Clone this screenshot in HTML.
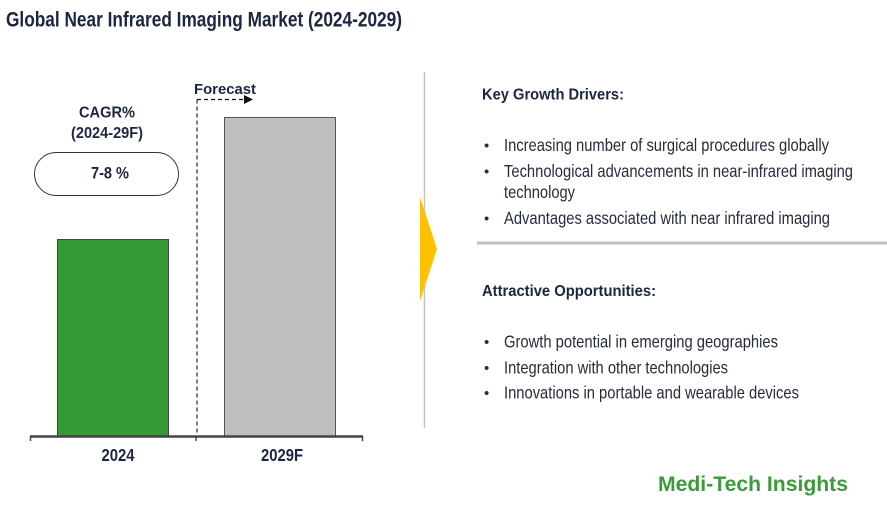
<!DOCTYPE html>
<html><head><meta charset="utf-8"><style>
html,body{margin:0;padding:0;background:#fff;}
svg{display:block;}
text{font-family:"Liberation Sans",Arial,sans-serif;}
</style></head><body>
<svg width="887" height="506" viewBox="0 0 887 506" xmlns="http://www.w3.org/2000/svg">
<rect width="887" height="506" fill="#fff"/>
<!-- Title -->
<text x="6" y="26.5" font-size="21" font-weight="bold" fill="#1c2541" textLength="396" lengthAdjust="spacingAndGlyphs">Global Near Infrared Imaging Market (2024-2029)</text>

<!-- Forecast -->
<text x="194" y="94" font-size="15" font-weight="bold" fill="#1c2541" textLength="62" lengthAdjust="spacingAndGlyphs">Forecast</text>
<line x1="197" y1="99.5" x2="245" y2="99.5" stroke="#111" stroke-width="1.2" stroke-dasharray="4,3"/>
<polygon points="244,95 253,99.5 244,104" fill="#111"/>
<line x1="197" y1="99.5" x2="197" y2="436" stroke="#1c2541" stroke-width="1.2" stroke-dasharray="4,3"/>

<!-- CAGR -->
<text x="107" y="117.5" font-size="16" font-weight="bold" fill="#1c2541" text-anchor="middle" textLength="56" lengthAdjust="spacingAndGlyphs">CAGR%</text>
<text x="107" y="138" font-size="16" font-weight="bold" fill="#1c2541" text-anchor="middle" textLength="72" lengthAdjust="spacingAndGlyphs">(2024-29F)</text>
<rect x="34.5" y="152.5" width="144" height="43" rx="21.5" ry="21.5" fill="#fff" stroke="#333" stroke-width="1"/>
<text x="110" y="178.3" font-size="16.5" font-weight="bold" fill="#1c2541" text-anchor="middle" textLength="38" lengthAdjust="spacingAndGlyphs">7-8 %</text>

<!-- Bars -->
<rect x="57.5" y="239.5" width="111" height="197" fill="#359934" stroke="#444" stroke-width="1"/>
<rect x="224.5" y="117.5" width="111" height="319" fill="#bfbfbf" stroke="#555" stroke-width="1"/>

<!-- Axis -->
<line x1="30" y1="436.5" x2="363" y2="436.5" stroke="#444" stroke-width="2.5"/>
<line x1="30.5" y1="436" x2="30.5" y2="441" stroke="#444" stroke-width="1.5"/>
<line x1="196" y1="436" x2="196" y2="441" stroke="#444" stroke-width="1.5"/>
<line x1="362.5" y1="436" x2="362.5" y2="441" stroke="#444" stroke-width="1.5"/>
<text x="118" y="461" font-size="17.5" font-weight="bold" fill="#1c2541" text-anchor="middle" textLength="33" lengthAdjust="spacingAndGlyphs">2024</text>
<text x="282" y="461" font-size="17.5" font-weight="bold" fill="#1c2541" text-anchor="middle" textLength="42" lengthAdjust="spacingAndGlyphs">2029F</text>

<!-- Divider -->
<line x1="424.5" y1="72" x2="424.5" y2="428" stroke="#c4c4c4" stroke-width="1.5"/>
<polygon points="420,197 437,249 420,301" fill="#ffc000"/>

<!-- Key Growth Drivers -->
<text x="482" y="99.5" font-size="16" font-weight="bold" fill="#1c2541" textLength="142" lengthAdjust="spacingAndGlyphs">Key Growth Drivers:</text>
<g font-size="17.5" fill="#272c3d">
<text x="484" y="150.5" font-size="15">•</text>
<text x="504" y="151" textLength="325" lengthAdjust="spacingAndGlyphs">Increasing number of surgical procedures globally</text>
<text x="484" y="176.5" font-size="15">•</text>
<text x="504" y="177" textLength="349" lengthAdjust="spacingAndGlyphs">Technological advancements in near-infrared imaging</text>
<text x="504" y="198" textLength="71" lengthAdjust="spacingAndGlyphs">technology</text>
<text x="484" y="223.5" font-size="15">•</text>
<text x="504" y="224" textLength="326" lengthAdjust="spacingAndGlyphs">Advantages associated with near infrared imaging</text>
</g>
<line x1="477" y1="243" x2="887" y2="243" stroke="#bfbfbf" stroke-width="3"/>

<!-- Attractive Opportunities -->
<text x="482" y="296" font-size="16" font-weight="bold" fill="#1c2541" textLength="174" lengthAdjust="spacingAndGlyphs">Attractive Opportunities:</text>
<g font-size="17.5" fill="#272c3d">
<text x="484" y="347" font-size="15">•</text>
<text x="504" y="347.5" textLength="274" lengthAdjust="spacingAndGlyphs">Growth potential in emerging geographies</text>
<text x="484" y="373" font-size="15">•</text>
<text x="504" y="373.5" textLength="224" lengthAdjust="spacingAndGlyphs">Integration with other technologies</text>
<text x="484" y="398" font-size="15">•</text>
<text x="504" y="398.5" textLength="295" lengthAdjust="spacingAndGlyphs">Innovations in portable and wearable devices</text>
</g>

<!-- Logo -->
<text x="658" y="491" font-size="21.5" font-weight="bold" fill="#3a9b3a" textLength="190" lengthAdjust="spacingAndGlyphs">Medi-Tech Insights</text>
</svg>
</body></html>
